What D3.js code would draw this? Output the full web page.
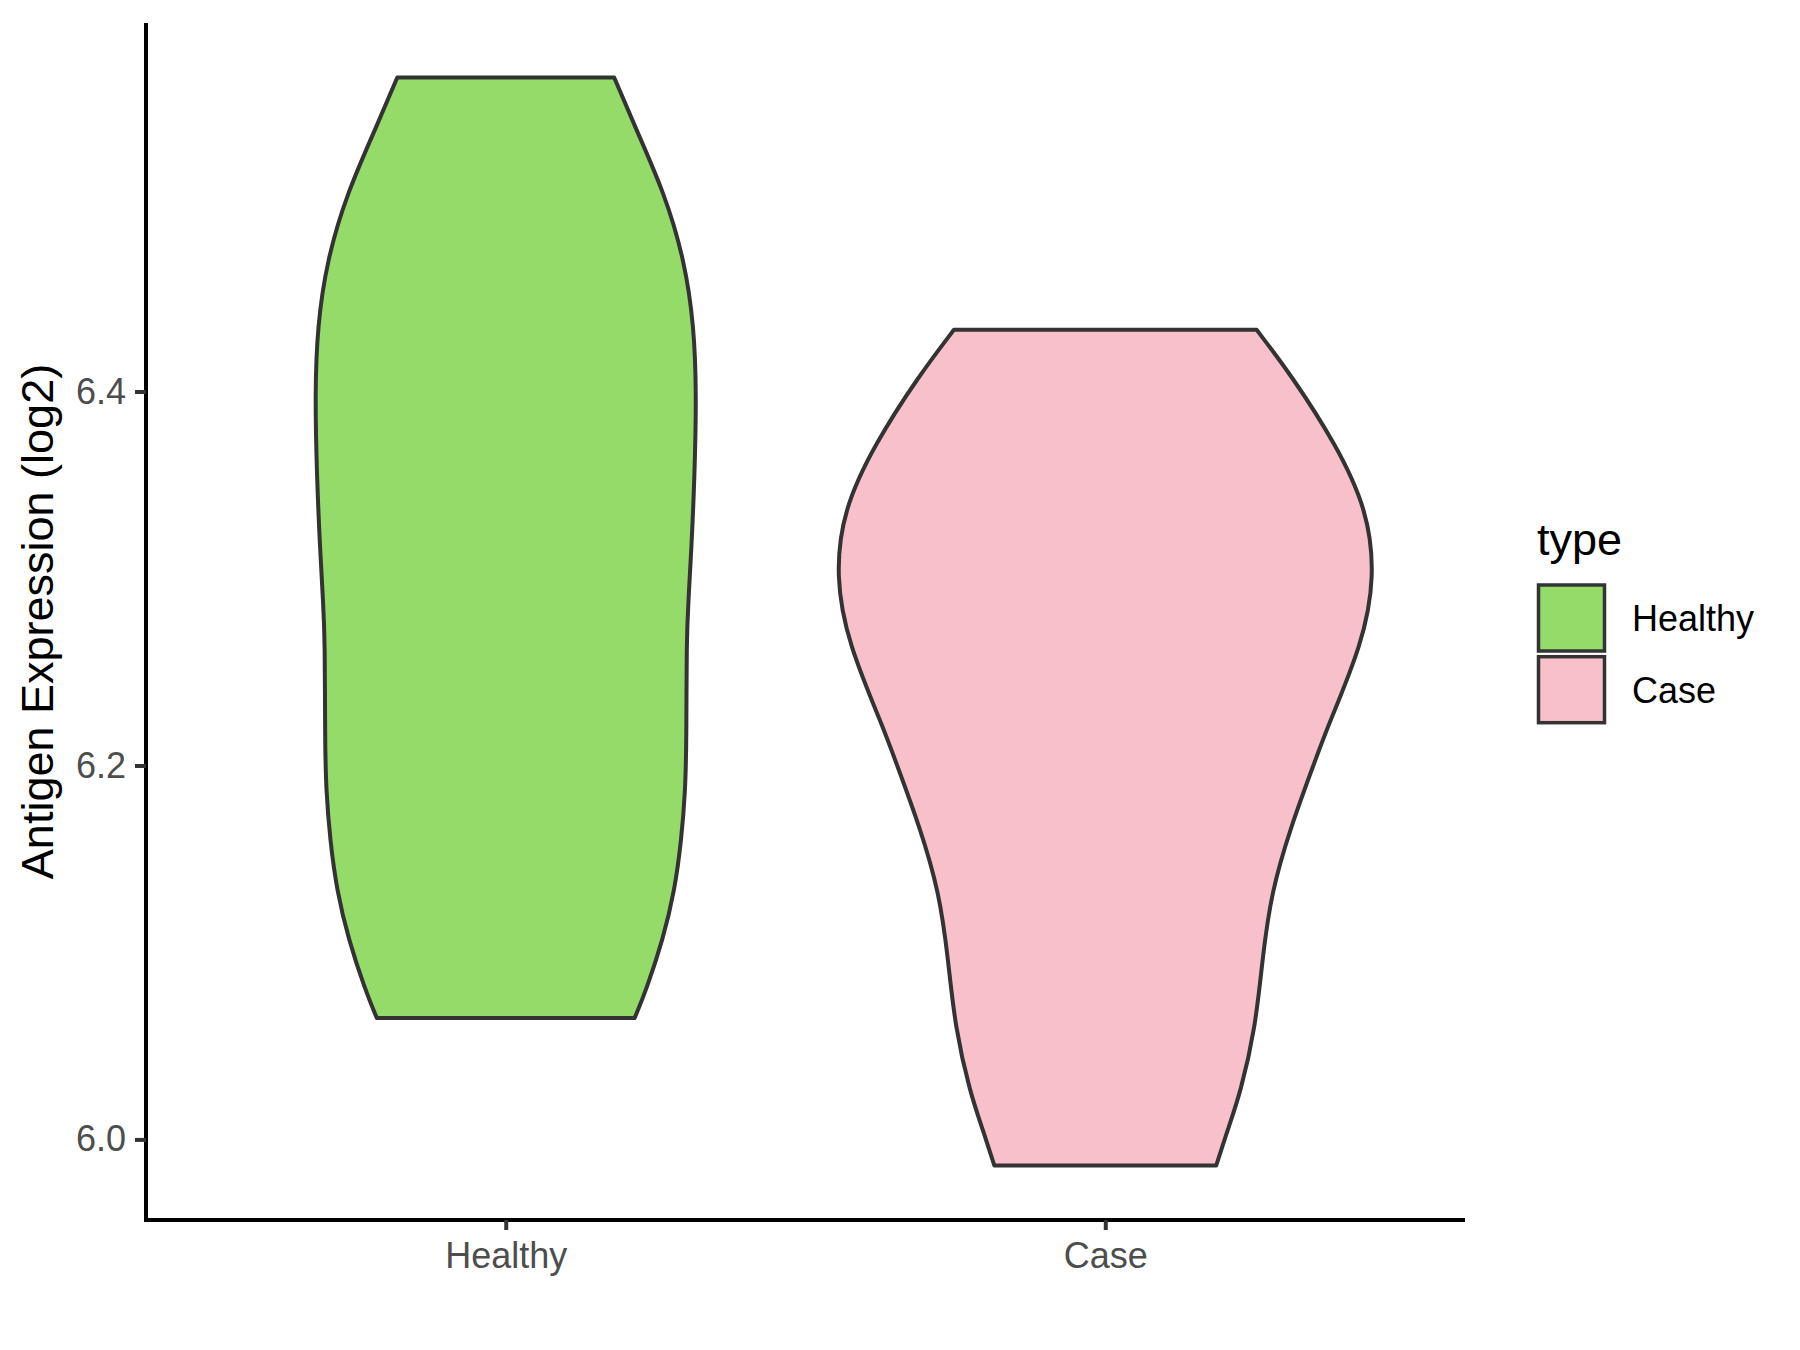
<!DOCTYPE html>
<html>
<head>
<meta charset="utf-8">
<script src="https://cdn.jsdelivr.net/npm/d3@7"></script>
<style>
  body { margin: 0; background: #fff; }
  text { font-family: "Liberation Sans", Arial, sans-serif; }
</style>
</head>
<body>
<div id="chart"></div>
<script>
// groups and colours
const groups = ["Healthy", "Case"];
const fills = ["#94DB6A", "#F7C0CB"];

// violin outlines: value (log2) and relative density (1 = widest)
const healthyValues  = [6.568, 6.542, 6.506, 6.470, 6.435, 6.399, 6.354, 6.315, 6.288, 6.267, 6.214, 6.187, 6.160, 6.133, 6.107, 6.080, 6.065];
const healthyDensity = [0.402, 0.478, 0.589, 0.663, 0.698, 0.707, 0.700, 0.688, 0.677, 0.670, 0.670, 0.666, 0.651, 0.626, 0.583, 0.521, 0.478];
const caseValues  = [6.433, 6.408, 6.372, 6.337, 6.301, 6.265, 6.221, 6.203, 6.167, 6.132, 6.096, 6.060, 6.025, 6.007, 5.986];
const caseDensity = [0.561, 0.693, 0.854, 0.971, 1.000, 0.953, 0.825, 0.779, 0.687, 0.615, 0.582, 0.557, 0.501, 0.458, 0.411];

const yTicks = [6.0, 6.2, 6.4];

const W = 1800, H = 1350;
const margin = {top: 23, right: 335, bottom: 130, left: 146};
const width = W - margin.left - margin.right;
const height = H - margin.top - margin.bottom;

const svg = d3.select("#chart").append("svg")
    .attr("width", W).attr("height", H);
const g = svg.append("g").attr("transform", `translate(${margin.left},${margin.top})`);

// ggplot style 5% expansion on y
let all = caseValues.concat(healthyValues);
let lo = d3.min(all), hi = d3.max(all);
let pad = (hi - lo) * 0.05;
const y = d3.scaleLinear().domain([lo - pad, hi + pad]).range([height, 0]);

// discrete x with 0.6 expansion
const x = d3.scaleLinear().domain([0.4, 2.6]).range([0, width]);
const unit = x(2) - x(1);

const series = [
  {name: "Healthy", vals: healthyValues, dens: healthyDensity},
  {name: "Case", vals: caseValues, dens: caseDensity}
];

series.forEach((s, i) => {
    let cx = x(i + 1);
    let pts = s.vals.map((v, j) => ({v: v, d: s.dens[j]}));
    let area = d3.area()
        .y(d => y(d.v))
        .x0(d => cx - d.d * 0.45 * unit)
        .x1(d => cx + d.d * 0.45 * unit)
        .curve(d3.curveBasis);
    g.append("path")
        .attr("d", area(pts))
        .attr("fill", fills[i])
        .attr("stroke", "#333333")
        .attr("stroke-width", 4)
        .attr("stroke-linejoin", "round");
});

// axes
const yAxis = g.append("g").call(d3.axisLeft(y).tickValues(yTicks).tickFormat(d3.format(".1f")).tickSize(11).tickPadding(9));
const xAxis = g.append("g").attr("transform", `translate(0,${height})`)
    .call(d3.axisBottom(x).tickValues([1, 2]).tickFormat(d => groups[d - 1]).tickSize(10).tickPadding(12));

[yAxis, xAxis].forEach(a => {
    a.select(".domain").attr("stroke", "#000").attr("stroke-width", 4);
    a.selectAll(".tick line").attr("stroke", "#333333").attr("stroke-width", 4);
    a.selectAll(".tick text").attr("fill", "#4D4D4D").style("font-size", "36px")
        .style("font-family", "'Liberation Sans', Arial, sans-serif");
});
yAxis.select(".domain").attr("d", `M0,${height + 2}V0`);
xAxis.select(".domain").attr("d", `M-2,0H${width}`);

// y title
svg.append("text")
    .attr("transform", `translate(53,${margin.top + height / 2}) rotate(-90)`)
    .attr("text-anchor", "middle")
    .style("font-size", "45px")
    .attr("fill", "#000")
    .text("Antigen Expression (log2)");

// legend
const leg = svg.append("g").attr("transform", "translate(1537,0)");
leg.append("text").attr("x", 0).attr("y", 555).style("font-size", "45px").text("type");
groups.forEach((name, i) => {
    let top = 585 + i * 71.7;
    leg.append("rect")
        .attr("x", 1.5).attr("y", top).attr("width", 66).attr("height", 66)
        .attr("fill", fills[i]).attr("stroke", "#333333").attr("stroke-width", 3.5);
    leg.append("text")
        .attr("x", 95).attr("y", top + 46)
        .style("font-size", "36px").text(name);
});
</script>
</body>
</html>
